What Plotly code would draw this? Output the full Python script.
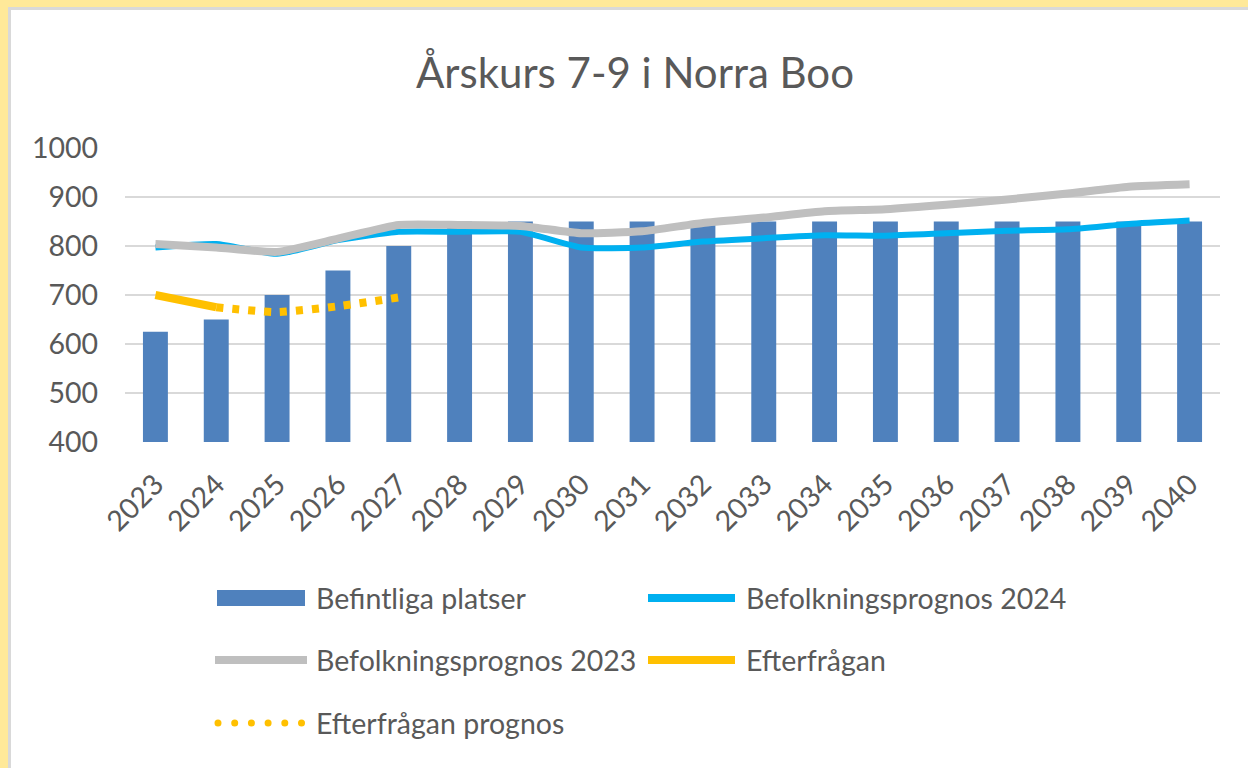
import plotly.graph_objects as go

years = [str(y) for y in range(2023, 2041)]
befintliga = [625, 650, 700, 750, 800, 850, 850, 850, 850, 850, 850, 850, 850, 850, 850, 850, 850, 850]
prognos_2024 = [797, 804, 784, 812, 829, 829, 829, 797, 797, 809, 816, 822, 821, 826, 831, 834, 845, 852]
prognos_2023 = [804, 797, 788, 815, 843, 843, 841, 826, 830, 847, 858, 871, 875, 884, 895, 907, 921, 926]
efterfragan_years = ["2023", "2024"]
efterfragan = [700, 675]
efterfragan_prognos_years = ["2024", "2025", "2026", "2027"]
efterfragan_prognos = [675, 665, 677, 695]

title = "Årskurs 7-9 i Norra Boo"
legend_labels = ["Befintliga platser", "Befolkningsprognos 2024", "Befolkningsprognos 2023",
                 "Efterfrågan", "Efterfrågan prognos"]

BAR = "#4F81BD"
BLUE = "#00B0F0"
GRAY = "#BFBFBF"
YELLOW = "#FFC000"
TXT = "#595959"
FONT = "Lato"
FS = 28.5

W, H = 1248, 768
L, R, T, B = 125, 1220, 148, 442


def px(x):
    return (x - L) / (R - L)


def py(y):
    return (B - y) / (B - T)


fig = go.Figure()
fig.add_bar(x=years, y=befintliga, name=legend_labels[0], marker_color=BAR,
            marker_line_width=0, showlegend=False)
fig.add_scatter(x=years, y=prognos_2024, name=legend_labels[1], mode="lines",
                line=dict(color=BLUE, width=6, shape="spline", smoothing=0.5), showlegend=False)
fig.add_scatter(x=years, y=prognos_2023, name=legend_labels[2], mode="lines",
                line=dict(color=GRAY, width=8, shape="spline", smoothing=0.5), showlegend=False)
fig.add_scatter(x=efterfragan_years, y=efterfragan, name=legend_labels[3], mode="lines",
                line=dict(color=YELLOW, width=8), showlegend=False)
fig.add_scatter(x=efterfragan_prognos_years, y=efterfragan_prognos, name=legend_labels[4], mode="lines",
                line=dict(color=YELLOW, width=8, dash="7px,9px", shape="spline", smoothing=0.5),
                showlegend=False)

shapes = []
# frame
shapes.append(dict(type="rect", xref="paper", yref="paper", x0=px(-5), x1=px(1300), y0=py(800), y1=py(-5),
                   fillcolor="#FFE999", line_width=0, layer="below"))
shapes.append(dict(type="rect", xref="paper", yref="paper", x0=px(9.5), x1=px(1300), y0=py(800), y1=py(8.5),
                   fillcolor="white", line=dict(color="#D9D9D9", width=3), layer="below"))

# manual legend
rows = [598, 660, 723]
c1, c2 = 217, 645
sw = 90
shapes.append(dict(type="rect", xref="paper", yref="paper", x0=px(c1), x1=px(c1 + 88),
                   y0=py(rows[0] + 8), y1=py(rows[0] - 8), fillcolor=BAR, line_width=0))
shapes.append(dict(type="line", xref="paper", yref="paper", x0=px(c2 + 3), x1=px(c2 + sw),
                   y0=py(rows[0]), y1=py(rows[0]), line=dict(color=BLUE, width=8)))
shapes.append(dict(type="line", xref="paper", yref="paper", x0=px(c1 - 2), x1=px(c1 + sw),
                   y0=py(rows[1]), y1=py(rows[1]), line=dict(color=GRAY, width=8)))
shapes.append(dict(type="line", xref="paper", yref="paper", x0=px(c2 + 3), x1=px(c2 + sw),
                   y0=py(rows[1]), y1=py(rows[1]), line=dict(color=YELLOW, width=8)))
for i in range(6):
    cx = c1 + 1 + i * 16.7
    shapes.append(dict(type="circle", xref="paper", yref="paper", x0=px(cx - 3.5), x1=px(cx + 3.5),
                       y0=py(rows[2] + 3.5), y1=py(rows[2] - 3.5), fillcolor=YELLOW, line_width=0))

annotations = []
for (lx, ly), text in zip([(314, rows[0]), (744, rows[0]), (314, rows[1]), (744, rows[1]), (314, rows[2])],
                          legend_labels):
    annotations.append(dict(x=px(lx), y=py(ly), xref="paper", yref="paper", text=text, showarrow=False,
                            xanchor="left", yanchor="middle", font=dict(family=FONT, size=FS, color=TXT)))

fig.update_layout(
    width=W, height=H,
    margin=dict(l=L, r=W - R, t=T, b=H - B, pad=0),
    paper_bgcolor="white", plot_bgcolor="white",
    title=dict(text=title, x=635 / W, xref="container", xanchor="center",
               y=1 - 73 / H, yref="container", yanchor="middle",
               font=dict(family=FONT, size=42, color=TXT)),
    bargap=0.59,
    showlegend=False,
    shapes=shapes,
    annotations=annotations,
    xaxis=dict(type="category", range=[-0.5, 17.5], tickangle=-45, showgrid=False, showline=False,
               tickfont=dict(family=FONT, size=FS, color=TXT), ticks="", ticklabelstandoff=19),
    yaxis=dict(range=[400, 1000], dtick=100, tick0=400, showgrid=True, gridcolor="#D9D9D9", gridwidth=2,
               zeroline=False, showline=False, ticks="", ticklabelstandoff=26,
               tickfont=dict(family=FONT, size=FS, color=TXT)),
)

fig.write_html("out.html", config={"displayModeBar": False},
               post_script="document.body.style.margin='0';document.body.style.overflow='hidden';")
